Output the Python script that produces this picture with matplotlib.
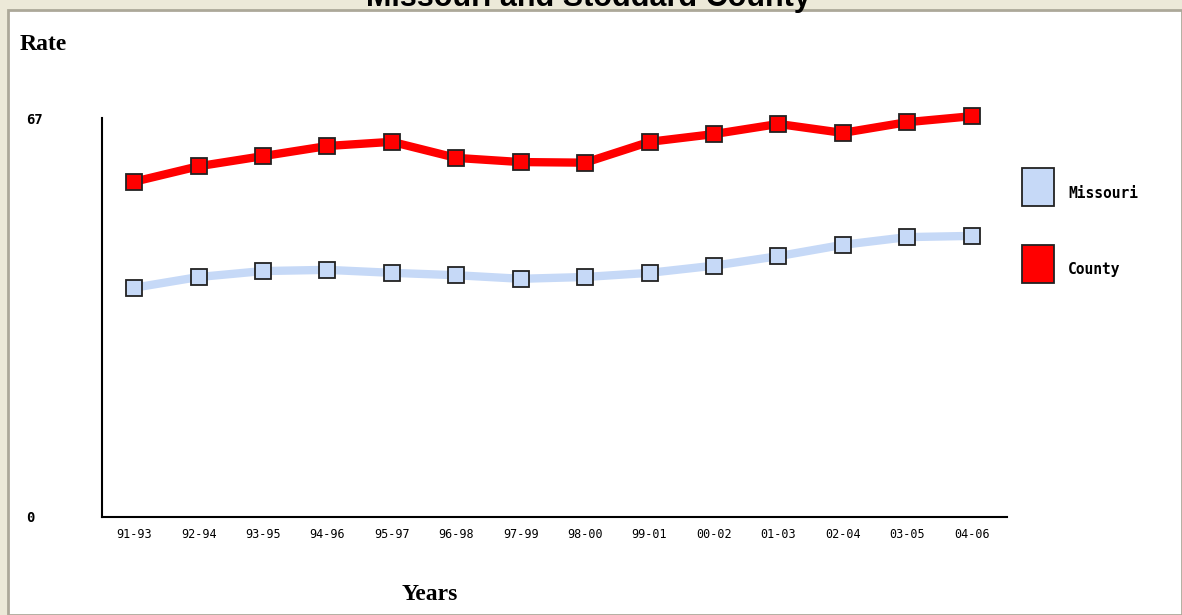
import matplotlib.pyplot as plt
from matplotlib.patches import Rectangle

years = ["91-93", "92-94", "93-95", "94-96", "95-97", "96-98", "97-99",
         "98-00", "99-01", "00-02", "01-03", "02-04", "03-05", "04-06"]
county = [56.3, 58.9, 60.6, 62.3, 63.0, 60.3, 59.6, 59.5, 63.0, 64.3, 66.0, 64.5, 66.3, 67.3]
missouri = [38.5, 40.3, 41.3, 41.5, 41.0, 40.6, 40.0, 40.3, 41.0, 42.2, 43.8, 45.7, 47.0, 47.2]

W, H = 1182, 615
fig = plt.figure(figsize=(W / 100, H / 100), dpi=100)
fig.patch.set_facecolor("#ece9d8")

# white panel with grey frame
fig.patches.append(Rectangle((8 / W, 0), (W - 8) / W, (H - 10) / H, transform=fig.transFigure,
                             facecolor="white", edgecolor="#aca899", linewidth=2, zorder=-5))

# title is cut off at the top edge, as in the original page capture
fig.text(588 / W, 1 + 2 / H, "Missouri and Stoddard County", ha="center", va="center",
         fontsize=22, fontweight="bold", family="Liberation Sans")
fig.text(20 / W, 1 - 44 / H, "Rate", fontsize=17, fontweight="bold", family="Liberation Serif",
         va="center")
fig.text(430 / W, 1 - 594 / H, "Years", fontsize=17, fontweight="bold", family="Liberation Serif",
         ha="center", va="center")

ax = fig.add_axes([102 / W, 1 - 517 / H, (1007 - 102) / W, (517 - 118) / H])
ax.set_zorder(5)
ax.patch.set_visible(False)
x = list(range(len(years)))
for vals, col in [(missouri, "#c6d9f7"), (county, "#ff0000")]:
    ax.plot(x, vals, color=col, linewidth=6, solid_capstyle="butt", zorder=2, clip_on=False)
    ax.plot(x, vals, "s", color=col, markeredgecolor="#222222", markersize=11,
            markeredgewidth=1.3, zorder=3, clip_on=False)

ax.set_xlim(-0.5, 13.55)
ax.set_ylim(0, 67)
ax.set_xticks(x)
ax.set_xticklabels(years, fontsize=8.5, family="DejaVu Sans Mono")
ax.set_yticks([])
ax.tick_params(axis="x", length=0, pad=8)
for s in ("top", "right"):
    ax.spines[s].set_visible(False)
ax.spines["left"].set_linewidth(1.5)
ax.spines["bottom"].set_linewidth(1.5)

fig.text(26 / W, 1 - 120 / H, "67", fontsize=10, fontweight="bold", family="DejaVu Sans Mono", va="center")
fig.text(26 / W, 1 - 518 / H, "0", fontsize=10, fontweight="bold", family="DejaVu Sans Mono", va="center")

# legend
for y, col, lab in [(187, "#c6d9f7", "Missouri"), (264, "#ff0000", "County")]:
    fig.patches.append(Rectangle((1022 / W, 1 - (y + 19) / H), 32 / W, 38 / H, transform=fig.transFigure,
                                 facecolor=col, edgecolor="#222222", linewidth=1.3))
    fig.text(1068 / W, 1 - (y + 6) / H, lab, fontsize=10.5, fontweight="bold",
             family="DejaVu Sans Mono", va="center")

fig.savefig("out.png", dpi=100)
